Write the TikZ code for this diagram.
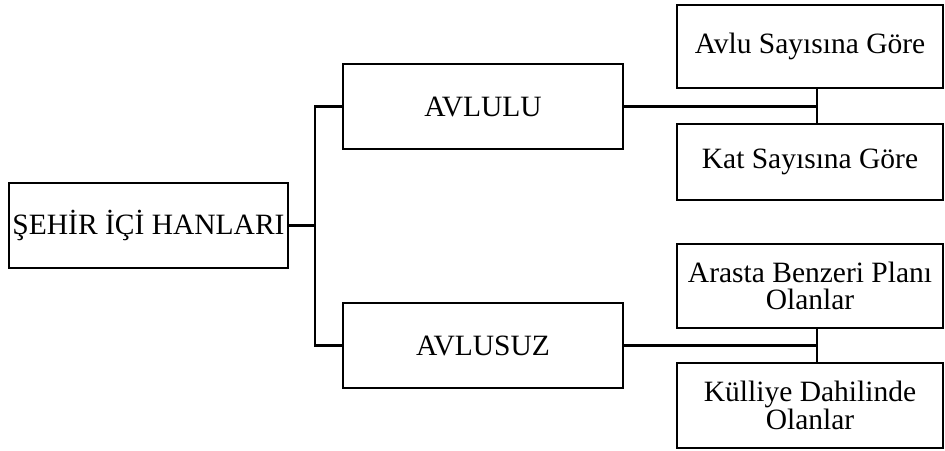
\documentclass[tikz,border=0pt]{standalone}
\usepackage{fontspec}
\setmainfont{Liberation Serif}
\begin{document}
\begin{tikzpicture}[x=1pt,y=-1pt,
  box/.style={draw,line width=2.5pt,inner sep=0pt,align=center,
    font=\fontsize{29.5}{27.5}\selectfont},
  conn/.style={line width=2.5pt}]
\useasboundingbox (0,0) rectangle (945,450);
\node[box,minimum width=279pt,minimum height=85pt] (root) at (148.5,225.5) {ŞEHİR İÇİ HANLARI};
\node[box,minimum width=280pt,minimum height=85pt] (avlulu) at (483,106.5) {AVLULU};
\node[box,minimum width=280pt,minimum height=85pt] (avlusuz) at (483,345.5) {AVLUSUZ};
\node[box,minimum width=266pt,minimum height=83pt] (avlu) at (810,46.5) {Avlu Sayısına Göre};
\node[box,minimum width=266pt,minimum height=76pt] (kat) at (810,162) {Kat Sayısına Göre};
\node[box,minimum width=266pt,minimum height=84pt] (arasta) at (810,286) {Arasta Benzeri Planı\\Olanlar};
\node[box,minimum width=266pt,minimum height=85pt] (kulliye) at (810,405.5) {Külliye Dahilinde\\Olanlar};
\coordinate (r) at (315,225.5);
\coordinate (j1) at (817,106.5);
\coordinate (j2) at (817,345.5);
\draw[conn] (root.east) -- (r);
\draw[conn] (avlulu.west) -| (r) |- (avlusuz.west);
\draw[conn] (avlulu.east) -- (j1);
\draw[conn] (avlu.south -| j1) -- (kat.north -| j1);
\draw[conn] (avlusuz.east) -- (j2);
\draw[conn] (arasta.south -| j2) -- (kulliye.north -| j2);
\end{tikzpicture}
\end{document}
